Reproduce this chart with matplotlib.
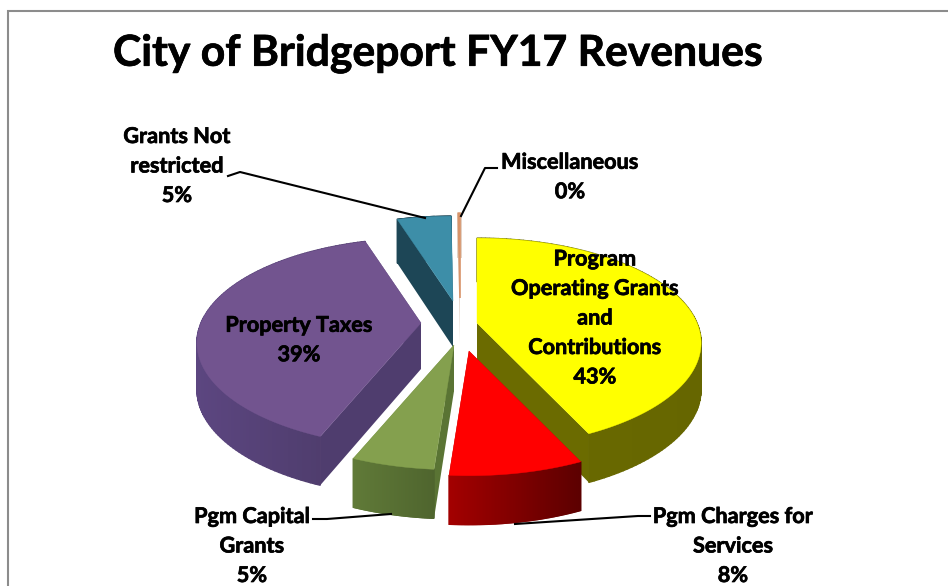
import numpy as np
import matplotlib
matplotlib.use('Agg')
import matplotlib.pyplot as plt
import matplotlib.patheffects as pe
from matplotlib.colors import to_rgb

plt.rcParams['font.family'] = ['Lato', 'DejaVu Sans']

# Slice data, clockwise from the top
names = ['Program\nOperating Grants\nand\nContributions', 'Pgm Charges for\nServices',
         'Pgm Capital\nGrants', 'Property Taxes', 'Grants Not\nrestricted', 'Miscellaneous']
values = [43.2, 8.1, 5.0, 39.1, 4.7, 0.15]
percents = ['43%', '8%', '5%', '39%', '5%', '0%']
top_colors = ['#FFFF00', '#FF0000', '#84A04E', '#72548F', '#3D8EA8', '#D8946A']
wall_colors = ['#6B6B00', '#6E0000', '#5A7434', '#4F3D6E', '#1D4656', '#E3D2C6']
rim_left = ['#6B6B00', '#A30000', '#607A38', '#5C4680', '#1D4656', '#E3D2C6']
rim_right = ['#666600', '#5C0000', '#4F652E', '#4B3A68', '#1D4656', '#E3D2C6']

# Where the tip of each exploded slice lands, in pixels
tips = [(477, 323), (469, 351), (454, 345), (421, 323), (453, 301), (460, 298)]
draw_order = [4, 5, 0, 3, 2, 1]

RX, RY, PERSP, DEPTH = 220, 101, 0.19, 46

fracs = np.array(values) / np.sum(values)
edges = np.concatenate([[0], np.cumsum(fracs)]) * 2 * np.pi


# Project a point on the unit disc onto the screen, tilted with some perspective
def project(tip, ang, r=1.0):
    u, v = r * np.sin(ang), r * np.cos(ang)
    w = 1 + PERSP * v
    return np.array([tip[0] + RX * u / w, tip[1] - RY * v / w]), w


def drop(pt, w):
    return pt + np.array([0, DEPTH / w ** 0.3])


fig = plt.figure(figsize=(9.48, 5.86), dpi=100)
ax = fig.add_axes([0, 0, 1, 1])
ax.set_xlim(0, 948)
ax.set_ylim(586, 0)
ax.axis('off')

# Chart frame, only the left and top edges are in view
ax.plot([8, 8, 948], [586, 11, 11], color='#8C8C8C', lw=1.5, solid_joinstyle='miter')

for i in draw_order:
    tip = tips[i]
    angs = np.linspace(edges[i], edges[i + 1], 120)
    pts = [project(tip, a) for a in angs]
    tip_low = drop(np.array(tip, dtype=float), 1.0)

    # flat walls along the two cut edges
    for p, w in (pts[0], pts[-1]):
        wall = np.array([tip, p, drop(p, w), tip_low])
        ax.fill(wall[:, 0], wall[:, 1], color=wall_colors[i], lw=0)

    # curved rim, shaded in small steps
    c0, c1 = np.array(to_rgb(rim_left[i])), np.array(to_rgb(rim_right[i]))
    xs = np.array([p[0] for p, w in pts])
    span = max(xs.max() - xs.min(), 1)
    for j in range(len(pts) - 1):
        (p0, w0), (p1, w1) = pts[j], pts[j + 1]
        quad = np.array([p0, p1, drop(p1, w1), drop(p0, w0)])
        t = (p0[0] - xs.min()) / span
        col = c0 + (c1 - c0) * t
        ax.fill(quad[:, 0], quad[:, 1], facecolor=col, edgecolor=col, lw=1.0)

    # top face, the tiny slice gets a thicker edge so it still shows
    face = np.array([tip] + [p for p, w in pts])
    ax.fill(face[:, 0], face[:, 1], facecolor=top_colors[i], edgecolor=top_colors[i],
            lw=1.2 if fracs[i] < 0.01 else 0.3)

thick = [pe.withStroke(linewidth=0.5, foreground='black')]

# Title
ax.text(113, 53, 'City of Bridgeport FY17 Revenues', fontsize=30.7, fontweight='bold',
        color='black', ha='left', va='center', path_effects=thick)

# Data labels
label_pos = [(595, 318), (733, 546), (252, 546), (299, 340), (177, 166), (570, 177)]
for i, (x, y) in enumerate(label_pos):
    ax.text(x, y, names[i] + '\n' + percents[i], fontsize=15.6, fontweight='bold', color='black',
            ha='center', va='center', linespacing=1.5, path_effects=thick)

# Leader lines
leader_x = [[228, 240, 425], [497, 485, 461], [313, 327, 391], [650, 638, 515]]
leader_y = [[176, 172, 218], [168, 168, 216], [519, 519, 514], [516, 516, 524]]
for lx, ly in zip(leader_x, leader_y):
    ax.plot(lx, ly, color='black', lw=1.5)

fig.savefig('out.png', dpi=100)
